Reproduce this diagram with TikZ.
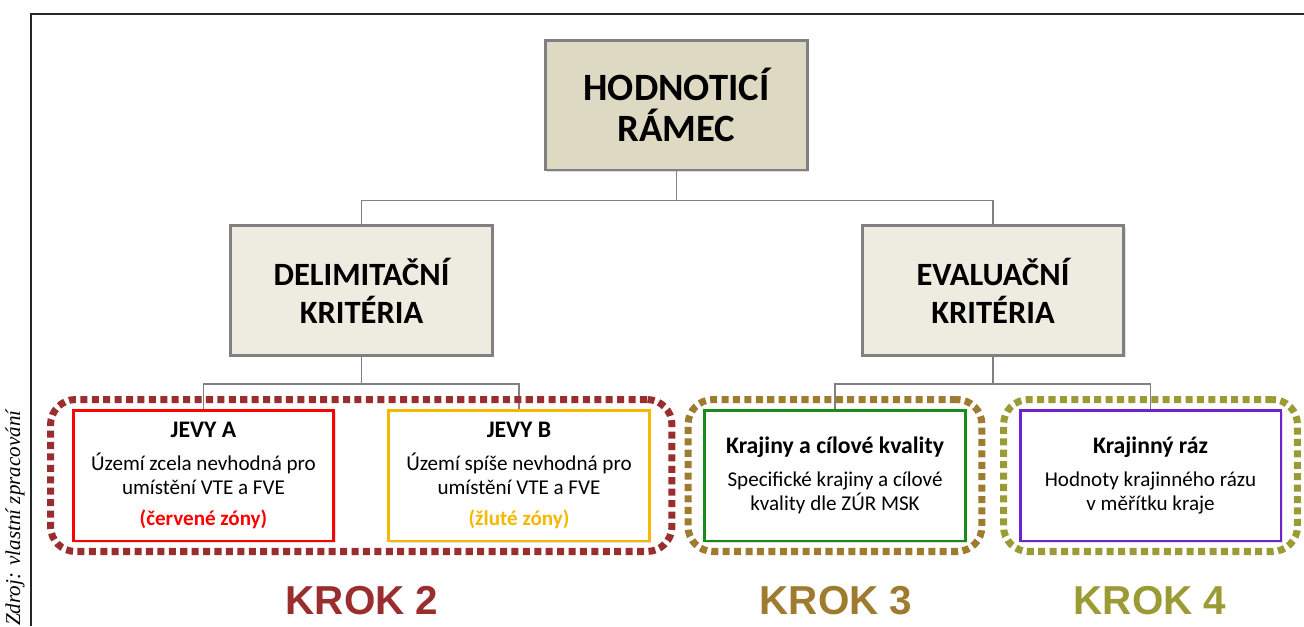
\documentclass[tikz,border=0pt]{standalone}
\usepackage{fontspec}
\setmainfont{Carlito}
\newfontfamily\krokfont{Liberation Sans}
\newfontfamily\srcfont{Liberation Serif}
\usepackage{xcolor}
\usepackage{tikz}
\usetikzlibrary{positioning, fit, shadows}

\definecolor{ramecfill}{HTML}{DDD9C3}
\definecolor{kritfill}{HTML}{EEECE1}
\definecolor{boxgray}{HTML}{808080}
\definecolor{jevyared}{HTML}{FF0000}
\definecolor{jevybgold}{HTML}{F5B800}
\definecolor{krajgreen}{HTML}{1A8A1A}
\definecolor{razpurple}{HTML}{6F22D0}
\definecolor{krokii}{HTML}{9A2E2E}
\definecolor{krokiii}{HTML}{9E7B2F}
\definecolor{krokiv}{HTML}{9B9B35}

\begin{document}
\begin{tikzpicture}[
  x=0.02cm, y=-0.02cm,
  headbox/.style={draw=boxgray, line width=1.7pt, minimum width=5.24cm, minimum height=2.6cm,
    align=center, font=\fontsize{18.5}{21.5}\selectfont\bfseries,
    drop shadow={opacity=0.25, shadow xshift=1pt, shadow yshift=-1pt}},
  itembox/.style={draw=#1, line width=1.7pt, fill=white, minimum width=5.22cm, minimum height=2.62cm,
    align=center, font=\fontsize{12}{13.6}\selectfont,
    drop shadow={opacity=0.25, shadow xshift=1pt, shadow yshift=-1pt}},
  itemtitle/.style={font=\fontsize{13.5}{15}\selectfont\bfseries},
  krokframe/.style={draw=#1, line width=4pt, dash pattern=on 4pt off 2.5pt, rounded corners=0.5cm,
    inner ysep=0.18cm},
  kroklabel/.style={text=#1, font=\krokfont\fontsize{23}{25}\selectfont\bfseries},
  link/.style={draw=boxgray, line width=0.9pt}
]
\useasboundingbox (0,0) rectangle (1304,626);
\draw[line width=0.9pt, black!85] (31,626) -- (31,14) -- (1304,14);
\node[rotate=90, anchor=west, font=\srcfont\itshape\fontsize{12}{14}\selectfont] (src) at (15,632) {Zdroj: vlastní zpracování};

\node[headbox, fill=ramecfill, font=\fontsize{22}{23}\selectfont\bfseries] (ramec) at (676.5,105) {HODNOTICÍ\\RÁMEC};
\node[headbox, fill=kritfill] (delim) at (361.5,290.5) {DELIMITAČNÍ\\KRITÉRIA};
\node[headbox, fill=kritfill] (eval) at (993,290.5) {EVALUAČNÍ\\KRITÉRIA};

\node[itembox=jevyared] (jevya) at (203.5,475.5) {{\fontsize{13.5}{15}\selectfont\bfseries JEVY A}\\[5pt]
  Území zcela nevhodná pro\\umístění VTE a FVE\\[4pt]{\color{jevyared}\bfseries (červené zóny)}};
\node[itembox=jevybgold] (jevyb) at (519,475.5) {{\fontsize{13.5}{15}\selectfont\bfseries JEVY B}\\[5pt]
  Území spíše nevhodná pro\\umístění VTE a FVE\\[4pt]{\color{jevybgold}\bfseries (žluté zóny)}};
\node[itembox=krajgreen] (kraj) at (835,475.5) {{\fontsize{13.5}{15}\selectfont\bfseries Krajiny a cílové kvality}\\[5.5pt]
  Specifické krajiny a cílové\\kvality dle ZÚR MSK};
\node[itembox=razpurple] (raz) at (1150.5,475.5) {{\fontsize{13.5}{15}\selectfont\bfseries Krajinný ráz}\\[5.5pt]
  Hodnoty krajinného rázu\\v měřítku kraje};

\draw[link] (ramec.south) -- ++(0,29) -| (delim.north);
\draw[link] (ramec.south) -- ++(0,29) -| (eval.north);
\draw[link] (delim.south) -- ++(0,27) -| (jevya.north);
\draw[link] (delim.south) -- ++(0,27) -| (jevyb.north);
\draw[link] (eval.south) -- ++(0,27) -| (kraj.north);
\draw[link] (eval.south) -- ++(0,27) -| (raz.north);

\node[krokframe=krokii, inner xsep=0.42cm, fit=(jevya) (jevyb)] (krok2) {};
\node[krokframe=krokiii, inner xsep=0.3cm, fit=(kraj)] (krok3) {};
\node[krokframe=krokiv, inner xsep=0.3cm, fit=(raz)] (krok4) {};

\node[kroklabel=krokii] (krok2lab) at (362,601) {KROK 2};
\node[kroklabel=krokiii] (krok3lab) at (836,601) {KROK 3};
\node[kroklabel=krokiv] (krok4lab) at (1150,601) {KROK 4};
\end{tikzpicture}
\end{document}
